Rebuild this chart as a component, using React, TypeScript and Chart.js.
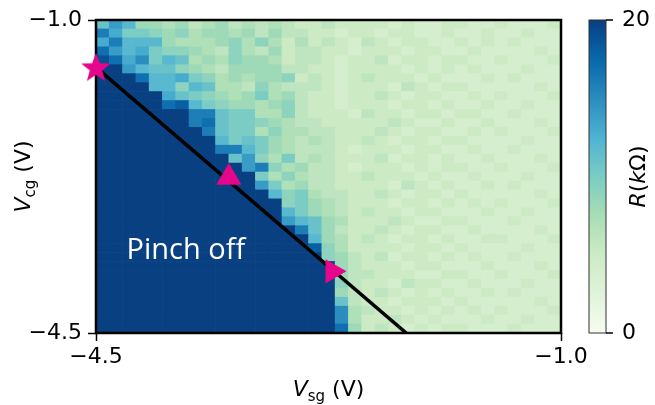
import React, { useEffect, useRef } from 'react';
import { Chart, registerables } from 'chart.js';

Chart.register(...registerables);

// ---------- data ----------
const X_RANGE = [-4.5, -1.0]; // V_sg (V)
const Y_RANGE = [-4.5, -1.0]; // V_cg (V)
const X_TICKS = [-4.5, -1.0];
const Y_TICKS = [-4.5, -1.0];
const CB_RANGE = [0, 20]; // R (kΩ)
const CB_TICKS = [0, 20];

// one character per cell, value in kΩ: '0'..'9' = 0..9, 'A'..'K' = 10..20
const LEVEL_CHARS = '0123456789ABCDEFGHIJK';
// rows from top (V_cg = -1.0) to bottom (V_cg = -4.5), columns from V_sg = -4.5 to -1.0
const R_ROWS = [
  'BEC88 78678 67676 55655 55454 45544 54445',
  'GDAA9 89788 78686 65545 54554 45445 44544',
  'DGCCC 87778 97975 75654 65455 44545 45444',
  'HECDA 99876 97685 66554 55545 54454 44454',
  'JHDFA CB787 98875 66545 56455 45544 54445',
  'KKECB B9876 88886 65545 55545 45454 44544',
  'KKKHC CDA97 87889 56545 65554 54445 45444',
  'KKKKC C9CB7 76976 66545 55465 45544 44454',
  'KKKKK DBA98 78A78 65545 56545 54454 54445',
  'KKKKK HICA9 88789 65545 55455 45445 44544',
  'KKKKK KKGGB AA779 65554 65545 54554 45444',
  'KKKKK KKGHB AA987 66555 55654 45445 44454',
  'KKKKK KKKGB AA797 76655 56545 54454 54445',
  'KKKKK KKKKC ABA87 67655 65455 45544 44544',
  'KKKKK KKKKG GCA87 66654 55545 54454 45444',
  'KKKKK KKKKK BE97A 67655 56455 45445 44454',
  'KKKKK KKKKK KEG97 86654 55545 45544 54445',
  'KKKKK KKKKK KKA79 76655 65554 54454 44544',
  'KKKKK KKKKK KKEA7 86655 55465 45445 45444',
  'KKKKK KKKKK KKKC9 A7665 56545 54544 44454',
  'KKKKK KKKKK KKKK9 A8765 55455 45454 54445',
  'KKKKK KKKKK KKKKC A8765 65545 54445 44544',
  'KKKKK KKKKK KKKKE CB875 55654 45544 45444',
  'KKKKK KKKKK KKKKK GB865 56545 54454 44454',
  'KKKKK KKKKK KKKKK KC875 65455 45445 54445',
  'KKKKK KKKKK KKKKK KI975 55545 54544 44544',
  'KKKKK KKKKK KKKKK KK986 56455 45454 45444',
  'KKKKK KKKKK KKKKK KKK86 55545 54445 44454',
  'KKKKK KKKKK KKKKK KKK86 65554 45544 54445',
  'KKKKK KKKKK KKKKK KKK96 55465 54454 44544',
  'KKKKK KKKKK KKKKK KKK86 56545 45445 45444',
  'KKKKK KKKKK KKKKK KKKB6 55455 54544 44454',
  'KKKKK KKKKK KKKKK KKKF7 65545 45454 54445',
  'KKKKK KKKKK KKKKK KKKF7 55654 54445 44544',
  'KKKKK KKKKK KKKKK KKKH8 56545 45544 45444',
];

const LINE_X = [-4.5, -2.165];
const LINE_Y = [-1.53, -4.5];
const STAR_XY = [-4.5, -1.53];
const TRI_UP_XY = [-3.5, -2.76];
const TRI_RIGHT_XY = [-2.72, -3.81];
const REGION_LABEL = 'Pinch off';
const REGION_LABEL_XY = [-4.27, -3.67];

// ---------- styles ----------
const GNBU = ['#f7fcf0', '#e0f3db', '#ccebc5', '#a8ddb5', '#7bccc4', '#4eb3d3', '#2b8cbe', '#0868ac', '#084081'];
const PINK = '#e5068b';
const FONT = "'DejaVu Sans'";

function hexToRgb(h: string) {
  return [parseInt(h.slice(1, 3), 16), parseInt(h.slice(3, 5), 16), parseInt(h.slice(5, 7), 16)];
}
function gnbu(t: number) {
  const tt = Math.max(0, Math.min(1, t)) * (GNBU.length - 1);
  const i = Math.min(GNBU.length - 2, Math.floor(tt));
  const f = tt - i;
  const a = hexToRgb(GNBU[i]);
  const b = hexToRgb(GNBU[i + 1]);
  const c = a.map((v, k) => Math.round(v + (b[k] - v) * f));
  return `rgb(${c[0]},${c[1]},${c[2]})`;
}
const fmt = (v: number) => (v < 0 ? '\u2212' : '') + Math.abs(v).toFixed(1);

type Part = { text: string; font: string; dy?: number };
function drawParts(ctx: CanvasRenderingContext2D, parts: Part[], cx: number, cy: number, rot: number, color = '#000') {
  ctx.save();
  ctx.translate(cx, cy);
  ctx.rotate(rot);
  ctx.textBaseline = 'alphabetic';
  ctx.textAlign = 'left';
  ctx.fillStyle = color;
  const widths = parts.map((p) => {
    ctx.font = p.font;
    return ctx.measureText(p.text).width;
  });
  const total = widths.reduce((s, w) => s + w, 0);
  let x = -total / 2;
  parts.forEach((p, i) => {
    ctx.font = p.font;
    ctx.fillText(p.text, x, p.dy || 0);
    x += widths[i];
  });
  ctx.restore();
}

const X_TITLE: Part[] = [
  { text: 'V', font: `italic 22px ${FONT}` },
  { text: 'sg', font: `15px ${FONT}`, dy: 5 },
  { text: ' (V)', font: `22px ${FONT}` },
];
const Y_TITLE: Part[] = [
  { text: 'V', font: `italic 22px ${FONT}` },
  { text: 'cg', font: `15px ${FONT}`, dy: 5 },
  { text: ' (V)', font: `22px ${FONT}` },
];
const CB_TITLE: Part[] = [
  { text: 'R', font: `italic 22px ${FONT}` },
  { text: '(', font: `22px ${FONT}` },
  { text: 'k', font: `italic 22px ${FONT}` },
  { text: '\u03A9', font: `22px ${FONT}` },
  { text: ')', font: `22px ${FONT}` },
];

const decorPlugin = {
  id: 'decor',
  afterDatasetDraw(chart: any, args: any) {
    if (args.index !== 0) return;
    const { ctx, chartArea: a } = chart;
    ctx.save();
    ctx.strokeStyle = '#000';
    ctx.lineWidth = 2.5;
    ctx.strokeRect(a.left, a.top, a.right - a.left, a.bottom - a.top);
    ctx.restore();
  },
  afterDraw(chart: any) {
    const { ctx, chartArea: a, scales } = chart;
    const cb = scales.cb;
    // colour bar
    const x0 = a.right + 28;
    const w = 17;
    const yTop = cb.getPixelForValue(CB_RANGE[1]);
    const yBot = cb.getPixelForValue(CB_RANGE[0]);
    ctx.save();
    const g = ctx.createLinearGradient(0, yBot, 0, yTop);
    GNBU.forEach((c, i) => g.addColorStop(i / (GNBU.length - 1), c));
    ctx.fillStyle = g;
    ctx.fillRect(x0, yTop, w, yBot - yTop);
    ctx.strokeStyle = '#333';
    ctx.lineWidth = 1;
    ctx.strokeRect(x0, yTop, w, yBot - yTop);
    ctx.strokeStyle = '#000';
    ctx.lineWidth = 1.5;
    CB_TICKS.forEach((v) => {
      const y = cb.getPixelForValue(v);
      ctx.beginPath();
      ctx.moveTo(x0 + w, y);
      ctx.lineTo(x0 + w + 7, y);
      ctx.stroke();
    });
    ctx.restore();
    // titles
    drawParts(ctx, X_TITLE, (a.left + a.right) / 2, 396, 0);
    drawParts(ctx, Y_TITLE, 30, (a.top + a.bottom) / 2, -Math.PI / 2);
    drawParts(ctx, CB_TITLE, 645, (yTop + yBot) / 2, -Math.PI / 2);
    // region label
    const xs = scales.x;
    const ys = scales.y;
    ctx.save();
    ctx.font = "29px 'Open Sans'";
    ctx.fillStyle = '#ffffff';
    ctx.textAlign = 'left';
    ctx.textBaseline = 'alphabetic';
    ctx.fillText(REGION_LABEL, xs.getPixelForValue(REGION_LABEL_XY[0]), ys.getPixelForValue(REGION_LABEL_XY[1]));
    ctx.restore();
  },
};

export default function App() {
  const ref = useRef<HTMLCanvasElement | null>(null);
  useEffect(() => {
    if (!ref.current) return;
    const rows = R_ROWS.map((r) => r.replace(/\s+/g, ''));
    const nR = rows.length;
    const nC = rows[0].length;
    const dx = (X_RANGE[1] - X_RANGE[0]) / nC;
    const dy = (Y_RANGE[1] - Y_RANGE[0]) / nR;
    const cells: any[] = [];
    const colors: string[] = [];
    rows.forEach((row, r) => {
      for (let c = 0; c < nC; c++) {
        const v = LEVEL_CHARS.indexOf(row[c]);
        cells.push({ x: X_RANGE[0] + (c + 0.5) * dx, y: [Y_RANGE[1] - (r + 1) * dy, Y_RANGE[1] - r * dy] });
        colors.push(gnbu((v - CB_RANGE[0]) / (CB_RANGE[1] - CB_RANGE[0])));
      }
    });

    // filled five-point star marker
    const star = document.createElement('canvas');
    star.width = 34;
    star.height = 34;
    const sc = star.getContext('2d')!;
    sc.fillStyle = PINK;
    sc.beginPath();
    const R1 = 15.5;
    const R2 = R1 * 0.42;
    for (let i = 0; i < 10; i++) {
      const ang = -Math.PI / 2 + (i * Math.PI) / 5;
      const rr = i % 2 === 0 ? R1 : R2;
      const px = 17 + rr * Math.cos(ang);
      const py = 18 + rr * Math.sin(ang);
      if (i === 0) sc.moveTo(px, py);
      else sc.lineTo(px, py);
    }
    sc.closePath();
    sc.fill();

    const tickFont = { family: FONT, size: 22 };
    const chart = new Chart(ref.current, {
      type: 'bar',
      data: {
        datasets: [
          {
            type: 'bar',
            data: cells,
            backgroundColor: colors,
            borderWidth: 0,
            barPercentage: 1,
            categoryPercentage: 1,
            order: 3,
          } as any,
          {
            type: 'line',
            data: LINE_X.map((x, i) => ({ x, y: LINE_Y[i] })),
            borderColor: '#000',
            borderWidth: 3.5,
            pointRadius: 0,
            fill: false,
            order: 2,
          } as any,
          {
            type: 'line',
            showLine: false,
            data: [{ x: STAR_XY[0], y: STAR_XY[1] }],
            pointStyle: star,
            pointRadius: 15,
            clip: false,
            order: 1,
          } as any,
          {
            type: 'line',
            showLine: false,
            data: [{ x: TRI_UP_XY[0], y: TRI_UP_XY[1] }],
            pointStyle: 'triangle',
            pointRadius: 14.5,
            pointBackgroundColor: PINK,
            pointBorderColor: PINK,
            pointBorderWidth: 0,
            clip: false,
            order: 1,
          } as any,
          {
            type: 'line',
            showLine: false,
            data: [{ x: TRI_RIGHT_XY[0], y: TRI_RIGHT_XY[1] }],
            pointStyle: 'triangle',
            pointRotation: 90,
            pointRadius: 14,
            pointBackgroundColor: PINK,
            pointBorderColor: PINK,
            pointBorderWidth: 0,
            clip: false,
            order: 1,
          } as any,
        ],
      },
      options: {
        responsive: false,
        animation: false,
        events: [],
        layout: { padding: { top: 20, left: 0, right: 0, bottom: 0 } },
        plugins: { legend: { display: false }, tooltip: { enabled: false } },
        scales: {
          x: {
            type: 'linear',
            min: X_RANGE[0],
            max: X_RANGE[1],
            offset: false,
            grid: { display: true, drawOnChartArea: false, offset: false, color: '#000', tickColor: '#000', tickWidth: 1.5, tickLength: 8 },
            border: { display: false },
            ticks: { font: tickFont, color: '#000', padding: 3, maxRotation: 0, autoSkip: false, callback: (v: any) => fmt(Number(v)) },
            afterBuildTicks: (s: any) => { s.ticks = X_TICKS.map((value) => ({ value })); },
            afterFit: (s: any) => { s.height = 72; },
          },
          y: {
            type: 'linear',
            position: 'left',
            min: Y_RANGE[0],
            max: Y_RANGE[1],
            beginAtZero: false,
            grid: { display: true, drawOnChartArea: false, color: '#000', tickColor: '#000', tickWidth: 1.5, tickLength: 8 },
            border: { display: false },
            ticks: { font: tickFont, color: '#000', padding: 6, autoSkip: false, callback: (v: any) => fmt(Number(v)) },
            afterBuildTicks: (s: any) => { s.ticks = Y_TICKS.map((value) => ({ value })); },
            afterFit: (s: any) => { s.width = 96; },
          },
          cb: {
            type: 'linear',
            position: 'right',
            min: CB_RANGE[0],
            max: CB_RANGE[1],
            grid: { display: true, drawOnChartArea: false, color: 'rgba(0,0,0,0)', tickColor: 'rgba(0,0,0,0)', tickLength: 56 },
            border: { display: false },
            ticks: { font: tickFont, color: '#000', padding: 5, autoSkip: false, callback: (v: any) => String(v) },
            afterBuildTicks: (s: any) => { s.ticks = CB_TICKS.map((value) => ({ value })); },
            afterFit: (s: any) => { s.width = 94; },
          },
        } as any,
      },
      plugins: [decorPlugin as any],
    });
    return () => chart.destroy();
  }, []);

  return (
    <div style={{ position: 'fixed', left: 0, top: 0, width: 655, height: 405, background: '#fff' }}>
      <canvas ref={ref} width={655} height={405} style={{ width: 655, height: 405, display: 'block' }} />
    </div>
  );
}
